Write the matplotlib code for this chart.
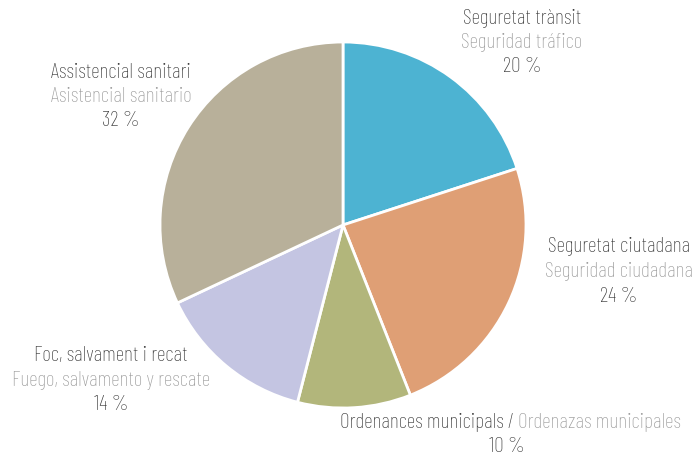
import matplotlib
matplotlib.use("Agg")
import matplotlib.pyplot as plt
from matplotlib import font_manager

# data
labels_ca = ["Seguretat trànsit", "Seguretat ciutadana", "Ordenances municipals",
             "Foc, salvament i recat", "Assistencial sanitari"]
labels_es = ["Seguridad tráfico", "Seguridad ciudadana", "Ordenazas municipales",
             "Fuego, salvamento y rescate", "Asistencial sanitario"]
shares = [20, 24, 10, 14, 32]
colors = ["#4DB3D2", "#DF9F75", "#B2B67B", "#C4C5E2", "#B8B09A"]

# condensed DIN-like face if present
names = set(f.name for f in font_manager.fontManager.ttflist)
family = "DejaVu Sans"
for cand in ["Barlow Condensed", "Roboto Condensed", "Asap Condensed", "Liberation Sans Narrow"]:
    if cand in names:
        family = cand
        break
plt.rcParams["font.family"] = [family, "DejaVu Sans"]
plt.rcParams["font.weight"] = "light"

W, H = 695, 457
fig = plt.figure(figsize=(W / 100, H / 100), dpi=100)
ax = fig.add_axes([0, 0, 1, 1])

ax.pie(shares, colors=colors, startangle=90, counterclock=False,
       center=(343, H - 225), radius=183,
       wedgeprops=dict(edgecolor="white", linewidth=2))

# pie resets limits, so pin them afterwards (1 data unit = 1 pixel)
ax.set_xlim(0, W)
ax.set_ylim(0, H)
ax.set_aspect("equal")
ax.axis("off")

dark = "#363636"
grey = "#999999"
fs = 15.5
step = 24.5

# label anchor (x, y of first line) in pixel space from top
anchors = [(522, 18), (619, 247), None, (111, 356), (121, 72)]
for i, pos in enumerate(anchors):
    if pos is None:
        continue
    x, y = pos
    ax.text(x, H - y, labels_ca[i], ha="center", va="center", color=dark, fontsize=fs)
    ax.text(x, H - y - step, labels_es[i], ha="center", va="center", color=grey, fontsize=fs)
    ax.text(x, H - y - 2 * step, f"{shares[i]} %", ha="center", va="center", color=dark, fontsize=fs)

# Ordenances: one line with two colours
t1 = ax.text(340, H - 423, labels_ca[2] + " /", ha="left", va="center", color=dark, fontsize=fs)
fig.canvas.draw()
bb = t1.get_window_extent()
ax.text(bb.x1 + 4, H - 423, labels_es[2], ha="left", va="center", color=grey, fontsize=fs)
ax.text(507, H - 447, f"{shares[2]} %", ha="center", va="center", color=dark, fontsize=fs)

fig.savefig("out.png", dpi=100, facecolor="white")
